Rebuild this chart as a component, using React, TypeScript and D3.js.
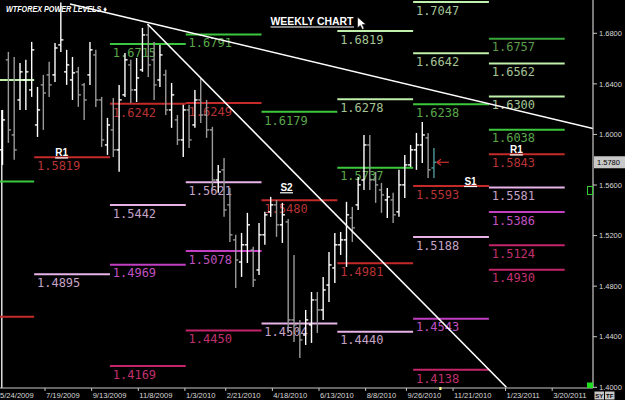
import React from 'react';
import * as d3 from 'd3';

const W = 625;
const H = 400;

// weekly bars (first bar dated 2009-05-29, one per week)
const firstBarDate = Date.UTC(2009, 4, 29);
const opens = [1.5878,1.6590,1.5996,1.6273,1.6431,1.6352,1.6075,1.6392,1.6471,1.6471,1.6708,1.6495,1.6431,1.6495,1.6392,1.6471,1.6629,1.6273,1.5917,1.6036,1.5878,1.6313,1.6550,1.6352,1.6511,1.6787,1.6590,1.6431,1.6471,1.6194,1.6115,1.5957,1.6194,1.6075,1.6273,1.6154,1.6036,1.5640,1.5720,1.5443,1.5166,1.4991,1.5127,1.5086,1.4928,1.5206,1.5388,1.5443,1.5285,1.5308,1.4533,1.4454,1.4414,1.4494,1.4691,1.4612,1.4809,1.4944,1.5127,1.5166,1.5340,1.5443,1.5640,1.5917,1.5640,1.5561,1.5482,1.5482,1.5388,1.5601,1.5759,1.5878,1.5917,1.5973,1.5735];
const highs = [1.6194,1.6653,1.6613,1.6566,1.6590,1.6732,1.6376,1.6471,1.6574,1.6724,1.7043,1.6669,1.6613,1.6534,1.6407,1.6732,1.6669,1.6297,1.6131,1.6289,1.6392,1.6645,1.6590,1.6605,1.6843,1.6866,1.6732,1.6708,1.6511,1.6407,1.6154,1.6234,1.6234,1.6352,1.6447,1.6273,1.6060,1.5759,1.5814,1.5577,1.5206,1.5221,1.5380,1.5111,1.5300,1.5388,1.5506,1.5482,1.5459,1.5332,1.5047,1.4533,1.4612,1.4754,1.4754,1.4873,1.5070,1.5221,1.5229,1.5467,1.5427,1.5664,1.5996,1.5996,1.5704,1.5617,1.5577,1.5538,1.5720,1.5838,1.5917,1.6012,1.6099,1.6012,1.5893];
const lows = [1.5759,1.5933,1.5799,1.6194,1.6194,1.6297,1.5980,1.6036,1.6297,1.6415,1.6653,1.6392,1.6273,1.6218,1.6115,1.6392,1.6218,1.5901,1.5838,1.5822,1.5704,1.6297,1.6249,1.6257,1.6495,1.6455,1.6273,1.6376,1.6154,1.6052,1.5917,1.5822,1.5893,1.6052,1.6091,1.5973,1.5561,1.5538,1.5348,1.5150,1.4786,1.4873,1.4983,1.4793,1.4888,1.5127,1.5348,1.5190,1.5142,1.4430,1.4359,1.4232,1.4335,1.4351,1.4430,1.4533,1.4675,1.4825,1.5047,1.4952,1.5150,1.5403,1.5561,1.5561,1.5459,1.5380,1.5340,1.5300,1.5348,1.5498,1.5743,1.5720,1.5775,1.5656,1.5656];
const closes = [1.6115,1.6036,1.5878,1.6495,1.6495,1.6669,1.6194,1.6328,1.6392,1.6684,1.6748,1.6550,1.6487,1.6313,1.6273,1.6669,1.6273,1.5957,1.6075,1.5878,1.6273,1.6590,1.6352,1.6447,1.6787,1.6550,1.6392,1.6629,1.6194,1.6313,1.5957,1.6194,1.5957,1.6273,1.6154,1.6036,1.5640,1.5704,1.5403,1.5206,1.5007,1.5127,1.5285,1.4849,1.5206,1.5364,1.5443,1.5285,1.5364,1.4533,1.4494,1.4375,1.4533,1.4691,1.4612,1.4770,1.4968,1.5127,1.5166,1.5364,1.5261,1.5601,1.5917,1.5640,1.5601,1.5522,1.5506,1.5364,1.5601,1.5759,1.5878,1.5917,1.5996,1.5720,1.5780];

const lastPrice = 1.5780;

// axis ticks
const yTicks = [1.40, 1.44, 1.48, 1.52, 1.56, 1.60, 1.64, 1.68];
const xTickLabels = ['5/24/2009','7/19/2009','9/13/2009','11/8/2009','1/3/2010','2/21/2010','4/18/2010','6/13/2010','8/8/2010','9/26/2010','11/21/2010','1/23/2011','3/20/2011'];

// quarterly level periods
const periodStarts = ['2009-04-06','2009-07-06','2009-10-05','2010-01-04','2010-04-05','2010-07-05','2010-10-04','2011-01-03','2011-04-04'];

// levels: [period index, price, kind]
const levelPeriods = [0,0,0, 1,1, 2,2,2,2,2, 3,3,3,3,3, 4,4,4, 5,5,5,5,5, 6,6,6,6,6,6,6, 7,7,7,7,7,7,7,7,7];
const levelPrices = [1.6431,1.5627,1.4559, 1.5819,1.4895, 1.6715,1.6242,1.5442,1.4969,1.4169, 1.6791,1.6249,1.5621,1.5078,1.4450, 1.6179,1.5480,1.4504, 1.6819,1.6278,1.5737,1.4981,1.4440, 1.7047,1.6642,1.6238,1.5593,1.5188,1.4543,1.4138, 1.6757,1.6562,1.6300,1.6038,1.5843,1.5581,1.5386,1.5124,1.4930];
const levelKinds = ['pg','g','r', 'r','lp', 'g','r','lp','m','dp', 'g','r','lp','m','dp', 'g','r','lp', 'pg','pg','g','r','lp', 'pg','pg','g','r','lp','m','dp', 'g2','pg','pg','g','r','lp','m','dp','dp'];

// annotations
const annTexts = ['R1','S2','S1','R1'];
const annDates = ['2009-08-08','2010-05-05','2010-12-12','2011-02-05'];
const annPrices = [1.5819,1.5480,1.5593,1.5843];

// trendlines
const trendStartDates = ['2009-08-18','2009-11-19'];
const trendStartPrices = [1.7032,1.6874];
const trendEndDates = ['2011-05-08','2011-01-24'];
const trendEndPrices = [1.6047,1.4000];

const lineColors: Record<string, string> = { g: '#3cc83c', g2: '#3aa83a', pg: '#bff0ac', r: '#c42a2a', lp: '#e8b4e8', m: '#c23ec2', dp: '#c4246a' };
const labelColors: Record<string, string> = { g: '#5aa84a', g2: '#5c9c4c', pg: '#a4c494', r: '#b83434', lp: '#c6a2c6', m: '#c052c0', dp: '#c0306e' };

const parse = (s: string) => { const [y, m, d] = s.split('-').map(Number); return new Date(Date.UTC(y, m - 1, d)); };
const parseMDY = (s: string) => { const [m, d, y] = s.split('/').map(Number); return new Date(Date.UTC(y, m - 1, d)); };

export default function App() {
  const plotR = 593;
  const plotB = 388;
  const x = d3.scaleUtc().domain([new Date(Date.UTC(2009, 6, 19)), new Date(Date.UTC(2011, 2, 20))]).range([45, 552.2]);
  const y = d3.scaleLinear().domain([1.40, 1.68]).range([387.3, 33.3]);

  const bars = opens.map((o, i) => ({
    date: d3.utcDay.offset(new Date(firstBarDate), 7 * i),
    o, h: highs[i], l: lows[i], c: closes[i], last: i === opens.length - 1,
  }));

  const levels = levelPrices.map((p, i) => ({
    x0: x(parse(periodStarts[levelPeriods[i]])),
    x1: x(parse(periodStarts[levelPeriods[i] + 1])),
    p, kind: levelKinds[i],
  }));

  const tickLen = 2.6;
  const font = 'Liberation Sans, Arial, sans-serif';
  const lastX = x(bars[bars.length - 1].date);

  return (
    <svg width={W} height={H} style={{ position: 'absolute', left: 0, top: 0, background: '#000' }}>
      <rect x={0} y={0} width={W} height={H} fill="#000" />
      <defs>
        <clipPath id="plot"><rect x={0} y={0} width={plotR} height={plotB} /></clipPath>
      </defs>
      <g clipPath="url(#plot)">
        {/* cursor line */}
        <line x1={1.8} x2={1.8} y1={y(highs[0])} y2={plotB} stroke="#fff" strokeWidth={1.3} />
        {/* levels */}
        {levels.map((lv, i) => (
          <g key={'lv' + i}>
            <line x1={lv.x0} x2={lv.x1} y1={y(lv.p)} y2={y(lv.p)} stroke={lineColors[lv.kind]} strokeWidth={2} />
            {lv.x0 >= 0 && (
              <text x={lv.x0 + 2.8} y={y(lv.p) + 12.7} fill={labelColors[lv.kind]} fontFamily="DejaVu Sans Mono, monospace" fontSize={12}>{lv.p.toFixed(4)}</text>
            )}
          </g>
        ))}
        {/* bars */}
        {bars.map((b, i) => {
          const bx = x(b.date);
          const col = b.last ? '#4f9a9a' : b.c >= b.o ? '#ffffff' : '#9a9a9a';
          return (
            <g key={'b' + i} stroke={col} strokeWidth={1.4}>
              <line x1={bx} x2={bx} y1={y(b.h)} y2={y(b.l)} />
              <line x1={bx - tickLen} x2={bx} y1={y(b.o)} y2={y(b.o)} />
              <line x1={bx} x2={bx + tickLen} y1={y(b.c)} y2={y(b.c)} />
            </g>
          );
        })}
        {/* trendlines */}
        {trendStartDates.map((d, i) => (
          <line key={'t' + i} x1={x(parse(d))} y1={y(trendStartPrices[i])} x2={x(parse(trendEndDates[i]))} y2={y(trendEndPrices[i])} stroke="#fff" strokeWidth={1.6} />
        ))}
        {/* annotations */}
        {annTexts.map((t, i) => {
          const ax = x(parse(annDates[i]));
          const dy = t === 'S2' ? -8 : 0;
          const by = y(annPrices[i]) + dy - 1;
          return (
            <g key={'a' + i}>
              <text x={ax} y={by} fill="#fff" fontFamily={font} fontWeight="bold" fontSize={10} textAnchor="middle">{t}</text>
              <line x1={ax - 6.5} x2={ax + 6.5} y1={by + 1.6} y2={by + 1.6} stroke="#fff" strokeWidth={1.2} />
            </g>
          );
        })}
        {/* red arrow at last bar */}
        <g stroke="#d23232" strokeWidth={1.2} fill="none">
          <line x1={lastX + 3} x2={lastX + 15} y1={y(lastPrice)} y2={y(lastPrice)} />
          <path d={`M${lastX + 3},${y(lastPrice)} l4,-3 M${lastX + 3},${y(lastPrice)} l4,3`} />
        </g>
      </g>

      {/* title */}
      <text x={6} y={12} fill="#fff" fontFamily={font} fontWeight="bold" fontStyle="italic" fontSize={8.5} textLength={101} lengthAdjust="spacingAndGlyphs">WTFOREX POWER LEVELS ♦</text>
      <text x={270.5} y={25} fill="#fff" fontFamily={font} fontWeight="bold" fontSize={11} textLength={83} lengthAdjust="spacingAndGlyphs">WEEKLY CHART</text>
      <line x1={270.5} x2={354} y1={27} y2={27} stroke="#fff" strokeWidth={1.2} />
      <path d="M357.5,17 L357.5,28 L360.3,25.4 L362.3,29.5 L364.2,28.6 L362.3,24.6 L366,24.6 Z" fill="#fff" stroke="#000" strokeWidth={0.6} />

      {/* axes */}
      <line x1={plotR} x2={plotR} y1={0} y2={plotB} stroke="#c8c8c8" strokeWidth={1.2} />
      <line x1={0} x2={plotR} y1={plotB} y2={plotB} stroke="#c8c8c8" strokeWidth={1.2} />
      {yTicks.map((t, i) => (
        <g key={'yt' + i}>
          <line x1={plotR} x2={plotR + 4} y1={y(t)} y2={y(t)} stroke="#c8c8c8" />
          <text x={599} y={y(t) + 2.7} fill="#d8d8d8" fontFamily={font} fontSize={7.5}>{t.toFixed(4)}</text>
        </g>
      ))}
      {xTickLabels.map((s, i) => {
        const tx = x(parseMDY(s));
        return (
          <g key={'xt' + i}>
            <line x1={tx} x2={tx} y1={plotB} y2={plotB + 3} stroke="#c8c8c8" />
            <text x={Math.max(tx + 1, 0)} y={397.5} fill="#d8d8d8" fontFamily={font} fontSize={7.6}>{s}</text>
          </g>
        );
      })}
      {/* last price tag */}
      <rect x={594} y={y(lastPrice) - 6} width={31} height={12} fill="#c8c8c8" />
      <text x={597} y={y(lastPrice) + 2.8} fill="#000" fontFamily={font} fontSize={7.5}>{lastPrice.toFixed(4)}</text>
      {/* small widgets */}
      <rect x={587.5} y={186.5} width={5} height={8} fill="#000" stroke="#3c3" strokeWidth={1} />
      <rect x={587} y={382.5} width={6} height={5.5} fill="#22dd22" />
      <rect x={439.3} y={387} width={2.2} height={3} fill="#ffff80" />
      <rect x={594.5} y={391.5} width={9.5} height={8} fill="#c8c8c8" />
      <text x={599.2} y={398.3} fill="#000" fontFamily={font} fontWeight="bold" fontSize={6} textAnchor="middle">SY</text>
      <rect x={605} y={391.5} width={9.5} height={8} fill="#c8c8c8" />
      <text x={609.7} y={398.3} fill="#000" fontFamily={font} fontWeight="bold" fontSize={6} textAnchor="middle">TF</text>
    </svg>
  );
}
